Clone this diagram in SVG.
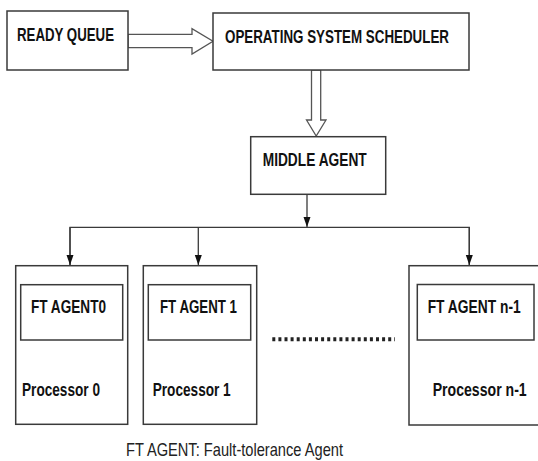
<svg xmlns="http://www.w3.org/2000/svg" width="538" height="461" viewBox="0 0 538 461">
<defs>
<style>
.box{fill:#fff;stroke:#3a3a3a;stroke-width:1.5}
.lbl{font-family:"Liberation Sans",Arial,sans-serif;font-weight:bold;font-size:18px;fill:#111}
.note{font-family:"Liberation Sans",Arial,sans-serif;font-size:18.5px;fill:#222}
.ln{fill:none;stroke:#3a3a3a;stroke-width:1.3}
.blk{fill:#fff;stroke:#555;stroke-width:1.3}
</style>
<marker id="ah" viewBox="0 0 10 10" refX="10" refY="5" markerWidth="10" markerHeight="10" markerUnits="userSpaceOnUse" orient="auto">
<path d="M0,1.5 L10,5 L0,8.5 Z" fill="#111"/>
</marker>
</defs>
<rect width="538" height="461" fill="#fff"/>
<g id="connectors">
<polygon class="blk" points="128,34.3 192,34.3 192,28.7 213,41.3 192,54 192,47.7 128,47.7"/>
<polygon class="blk" points="311.5,70 320.7,70 320.7,120 326,120 316.2,136 306.5,120 311.5,120"/>
<line class="ln" x1="307" y1="194.3" x2="307" y2="227" marker-end="url(#ah)"/>
<polyline class="ln" points="70,265 70,227.3 469.3,227.3 469.3,265"/>
<line class="ln" x1="70" y1="227.3" x2="70" y2="265" marker-end="url(#ah)"/>
<line class="ln" x1="198.3" y1="227.3" x2="198.3" y2="265" marker-end="url(#ah)"/>
<line class="ln" x1="469.3" y1="227.3" x2="469.3" y2="265" marker-end="url(#ah)"/>
</g>
<g id="ready-queue">
<rect class="box" x="7" y="11" width="121" height="59"/>
<text class="lbl" x="17" y="40.5" textLength="97" lengthAdjust="spacingAndGlyphs">READY QUEUE</text>
</g>
<g id="os-scheduler">
<rect class="box" x="213" y="13" width="256" height="57"/>
<text class="lbl" x="225" y="43" textLength="224" lengthAdjust="spacingAndGlyphs">OPERATING SYSTEM SCHEDULER</text>
</g>
<g id="middle-agent">
<rect class="box" x="250.7" y="136.7" width="135" height="57.6"/>
<text class="lbl" x="262.7" y="165.7" textLength="104" lengthAdjust="spacingAndGlyphs">MIDDLE AGENT</text>
</g>
<g id="processor-0">
<rect class="box" x="15.7" y="265.7" width="112" height="158.6"/>
<rect class="box" x="20.7" y="284.7" width="102" height="55.3"/>
<text class="lbl" x="31" y="312.7" textLength="75" lengthAdjust="spacingAndGlyphs">FT AGENT0</text>
<text class="lbl" x="22" y="396" textLength="78" lengthAdjust="spacingAndGlyphs">Processor 0</text>
</g>
<g id="processor-1">
<rect class="box" x="143.3" y="265.7" width="113.4" height="158.6"/>
<rect class="box" x="148.3" y="284.7" width="102.4" height="55.3"/>
<text class="lbl" x="160" y="312.7" textLength="77" lengthAdjust="spacingAndGlyphs">FT AGENT 1</text>
<text class="lbl" x="152.7" y="396" textLength="78" lengthAdjust="spacingAndGlyphs">Processor 1</text>
</g>
<g id="processor-n-1">
<rect class="box" x="409" y="265.7" width="130" height="159.3"/>
<rect class="box" x="417.3" y="284.5" width="116.7" height="55.5"/>
<text class="lbl" x="427.7" y="313" textLength="93" lengthAdjust="spacingAndGlyphs">FT AGENT n-1</text>
<text class="lbl" x="432.7" y="396" textLength="94" lengthAdjust="spacingAndGlyphs">Processor n-1</text>
</g>
<line x1="272.3" y1="339.3" x2="395" y2="339.3" stroke="#222" stroke-width="4" stroke-dasharray="3 3.1"/>
<text class="note" x="126" y="456" textLength="217" lengthAdjust="spacingAndGlyphs">FT AGENT: Fault-tolerance Agent</text>
</svg>
